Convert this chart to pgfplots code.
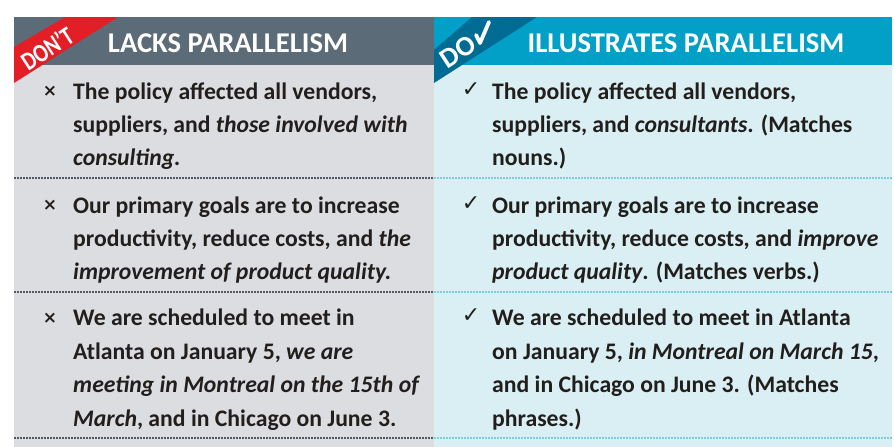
\documentclass[border=0pt]{standalone}
\usepackage{pgfplots}
\pgfplotsset{compat=1.18}
\usepackage{fontspec}
\setmainfont{Carlito}
\newfontfamily\dejavu{DejaVu Sans}
\definecolor{hdrL}{HTML}{5B6B78}
\definecolor{redB}{HTML}{E31E26}
\definecolor{hdrR}{HTML}{02A0C6}
\definecolor{dkB}{HTML}{006C93}
\definecolor{bodyL}{HTML}{DCDDE1}
\definecolor{bodyR}{HTML}{D9EFF4}
\definecolor{dotL}{HTML}{4E5A66}
\definecolor{dotR}{HTML}{7DCEDC}
\definecolor{txt}{HTML}{221E1C}
\newcommand{\bodyfont}{\fontsize{23.7}{28}\selectfont\bfseries}
\begin{document}
\begin{tikzpicture}
\begin{axis}[scale only axis, width=894pt, height=447pt,
  xmin=0, xmax=894, ymin=0, ymax=447, y dir=reverse,
  hide axis, clip=false]
% background
\addplot[draw=none, fill=white] coordinates {(0,0) (894,0) (894,447) (0,447)} -- cycle;
% bodies
\addplot[draw=none, fill=bodyL] coordinates {(14,65) (434,65) (434,447) (14,447)} -- cycle;
\addplot[draw=none, fill=bodyR] coordinates {(434,65) (892,65) (892,447) (434,447)} -- cycle;
% headers
\addplot[draw=none, fill=hdrL] coordinates {(14,17) (434,17) (434,65) (14,65)} -- cycle;
\addplot[draw=none, fill=hdrR] coordinates {(434,17) (892,17) (892,65) (434,65)} -- cycle;
% banners
\addplot[draw=none, fill=redB] coordinates {(65,17) (118,17) (14,83) (14,47)} -- cycle;
\addplot[draw=none, fill=dkB] coordinates {(472,17) (537,17) (434,83) (434,50)} -- cycle;
% dotted separators
\addplot[dotL, line width=1.6pt, dash pattern=on 1.6pt off 1.4pt] coordinates {(14,178) (434,178)};
\addplot[dotR, line width=1.6pt, dash pattern=on 1.6pt off 1.4pt] coordinates {(434,178) (892,178)};
\addplot[dotL, line width=1.6pt, dash pattern=on 1.6pt off 1.4pt] coordinates {(14,292) (434,292)};
\addplot[dotR, line width=1.6pt, dash pattern=on 1.6pt off 1.4pt] coordinates {(434,292) (892,292)};
\addplot[dotL, line width=1.6pt, dash pattern=on 1.6pt off 1.4pt] coordinates {(14,438) (434,438)};
\addplot[dotR, line width=1.6pt, dash pattern=on 1.6pt off 1.4pt] coordinates {(434,438) (892,438)};
% banner texts
\node[rotate=33, text=white, font=\fontsize{26}{26}\selectfont\bfseries, inner sep=0pt, xscale=0.8] at (axis cs:47,48) {DON'T};
\node[rotate=33, text=white, font=\fontsize{28}{28}\selectfont\bfseries, inner sep=0pt] at (axis cs:458,52) {DO};
\addplot[white, line width=3.8pt, line cap=round, line join=round] coordinates {(476,35) (480,43) (489,22)};
% header texts
\node[anchor=base, text=white, font=\fontsize{28.6}{28}\selectfont\bfseries, inner sep=0pt] at (axis cs:228,52.5) {LACKS PARALLELISM};
\node[anchor=base, text=white, font=\fontsize{28.6}{28}\selectfont\bfseries, inner sep=0pt] at (axis cs:686,52.5) {ILLUSTRATES PARALLELISM};
% bullets
\node[text=txt, font=\dejavu\fontsize{17}{17}\selectfont\bfseries, inner sep=0pt] at (axis cs:50,91) {×};
\node[text=txt, font=\dejavu\fontsize{17}{17}\selectfont\bfseries, inner sep=0pt] at (axis cs:50,205) {×};
\node[text=txt, font=\dejavu\fontsize{17}{17}\selectfont\bfseries, inner sep=0pt] at (axis cs:50,318) {×};
\node[text=txt, font=\dejavu\fontsize{22}{22}\selectfont, inner sep=0pt] at (axis cs:471,90) {✓};
\node[text=txt, font=\dejavu\fontsize{22}{22}\selectfont, inner sep=0pt] at (axis cs:471,204) {✓};
\node[text=txt, font=\dejavu\fontsize{22}{22}\selectfont, inner sep=0pt] at (axis cs:471,316) {✓};
% left texts
\begin{scope}[every node/.style={anchor=base west, inner sep=0pt, text=txt, font=\bodyfont}]
\node at (axis cs:73,99) {The policy affected all vendors,};
\node at (axis cs:73,132) {suppliers, and \textit{those involved with}};
\node at (axis cs:73,165) {\textit{consulting.}};
\node at (axis cs:73,213) {Our primary goals are to increase};
\node at (axis cs:73,246) {productivity, reduce costs, and \textit{the}};
\node at (axis cs:73,279) {\textit{improvement of product quality.}};
\node at (axis cs:73,325) {We are scheduled to meet in};
\node at (axis cs:73,359) {Atlanta on January 5, \textit{we are}};
\node at (axis cs:73,392) {\textit{meeting in Montreal on the 15th of}};
\node at (axis cs:73,426) {\textit{March}, and in Chicago on June 3.};
% right texts
\node at (axis cs:492,99) {The policy affected all vendors,};
\node at (axis cs:492,132) {suppliers, and \textit{consultants}. (Matches};
\node at (axis cs:492,165) {nouns.)};
\node at (axis cs:492,213) {Our primary goals are to increase};
\node at (axis cs:492,246) {productivity, reduce costs, and \textit{improve}};
\node at (axis cs:492,279) {\textit{product quality}. (Matches verbs.)};
\node at (axis cs:492,325) {We are scheduled to meet in Atlanta};
\node at (axis cs:492,359) {on January 5, \textit{in Montreal on March 15},};
\node at (axis cs:492,392) {and in Chicago on June 3. (Matches};
\node at (axis cs:492,426) {phrases.)};
\end{scope}
\end{axis}
\end{tikzpicture}
\end{document}
